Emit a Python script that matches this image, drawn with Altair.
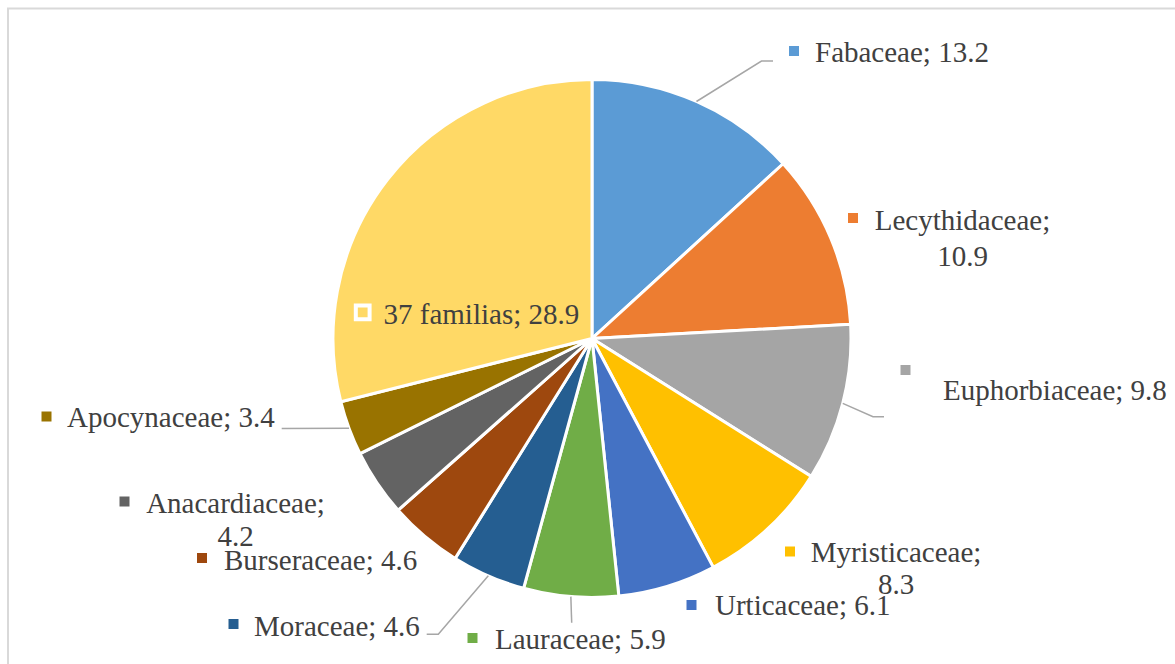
import math
import altair as alt
import pandas as pd

# ---- data ----
families = ["Fabaceae", "Lecythidaceae", "Euphorbiaceae", "Myristicaceae", "Urticaceae",
            "Lauraceae", "Moraceae", "Burseraceae", "Anacardiaceae", "Apocynaceae", "37 familias"]
values = [13.2, 10.9, 9.8, 8.3, 6.1, 5.9, 4.6, 4.6, 4.2, 3.4, 28.9]
colors = ["#5B9BD5", "#ED7D31", "#A5A5A5", "#FFC000", "#4472C4", "#70AD47",
          "#255E91", "#9E480E", "#636363", "#997300", "#FFD966"]

# ---- layout (pixels) ----
W, H = 1175, 664
CX, CY, R = 592, 338.5, 259
TEXT_COLOR = "#404040"
FONT = "Times New Roman, Liberation Serif, DejaVu Serif, serif"
FS = 29

# label layout: family -> list of (line kind, x, baseline y, align)
label_layout = {
    "Fabaceae": [("full", 815, 61.5, "left")],
    "Lecythidaceae": [("name", 962.5, 230, "center"), ("value", 962.5, 266, "center")],
    "Euphorbiaceae": [("full", 943, 400, "left")],
    "Myristicaceae": [("name", 896, 561.5, "center"), ("value", 896, 594, "center")],
    "Urticaceae": [("full", 715, 615, "left")],
    "Lauraceae": [("full", 495, 649, "left")],
    "Moraceae": [("full", 254, 636, "left")],
    "Burseraceae": [("full", 224, 570, "left")],
    "Anacardiaceae": [("name", 235.5, 513, "center"), ("value", 235.5, 546, "center")],
    "Apocynaceae": [("full", 67, 427, "left")],
    "37 familias": [("full", 383.5, 323.5, "left")],
}
marker_layout = {
    "Fabaceae": (794, 51), "Lecythidaceae": (853, 218), "Euphorbiaceae": (905.5, 370),
    "Myristicaceae": (790, 551.5), "Urticaceae": (691.5, 605), "Lauraceae": (472.5, 638),
    "Moraceae": (233.5, 624), "Burseraceae": (202, 558), "Anacardiaceae": (124.5, 501.5),
    "Apocynaceae": (46.5, 416.5), "37 familias": (362.7, 312.3),
}
# leader lines: points after the slice-edge start point
leader_layout = {
    "Fabaceae": [(761.5, 61), (773, 61)],
    "Euphorbiaceae": [(873, 416.7), (884, 416.7)],
    "Lauraceae": [(571.7, 622.7)],
    "Moraceae": [(438.3, 634.3), (426.7, 634.3)],
    "Apocynaceae": [(281.7, 428.5)],
}

# ---- tables ----
pie_df = pd.DataFrame({"family": families, "value": values, "idx": list(range(len(families)))})

total = sum(values)
mid_angle = {}
cum = 0.0
for f, v in zip(families, values):
    mid_angle[f] = (cum + v / 2) / total * 2 * math.pi
    cum += v

text_rows = []
for f, v in zip(families, values):
    for kind, x, y, align in label_layout[f]:
        if kind == "full":
            t = f"{f}; {v}"
        elif kind == "name":
            t = f"{f};"
        else:
            t = f"{v}"
        text_rows.append({"family": f, "text": t, "x": x, "y": y, "align": align})
text_df = pd.DataFrame(text_rows)

marker_df = pd.DataFrame([{"family": f, "x": marker_layout[f][0], "y": marker_layout[f][1]}
                          for f in families if f != "37 familias"])
hollow_df = pd.DataFrame([{"family": "37 familias", "x": marker_layout["37 familias"][0],
                           "y": marker_layout["37 familias"][1]}])

line_rows = []
for f, pts in leader_layout.items():
    a = mid_angle[f]
    start = (CX + R * math.sin(a), CY - R * math.cos(a))
    for i, p in enumerate([start] + pts):
        line_rows.append({"family": f, "x": p[0], "y": p[1], "o": i})
line_df = pd.DataFrame(line_rows)

xs = alt.Scale(domain=[0, W], nice=False, zero=False)
ys = alt.Scale(domain=[0, H], nice=False, zero=False, reverse=True)
cscale = alt.Scale(domain=families, range=colors)

border = alt.Chart(pd.DataFrame({"a": [0]})).mark_rect(
    fillOpacity=0, stroke="#D9D9D9", strokeWidth=2
).encode(x=alt.value(8), x2=alt.value(1300), y=alt.value(8.5), y2=alt.value(800))

pie = alt.Chart(pie_df).mark_arc(radius=R, stroke="white", strokeWidth=3).encode(
    theta=alt.Theta("value:Q", stack=True),
    order=alt.Order("idx:Q", sort="ascending"),
    color=alt.Color("family:N", scale=cscale, legend=None),
    x=alt.value(CX), y=alt.value(CY),
)

leaders = alt.Chart(line_df).mark_line(color="#A6A6A6", strokeWidth=1.5).encode(
    x=alt.X("x:Q", scale=xs, axis=None),
    y=alt.Y("y:Q", scale=ys, axis=None),
    detail="family:N",
    order="o:Q",
)

markers = alt.Chart(marker_df).mark_square(size=100, opacity=1).encode(
    x=alt.X("x:Q", scale=xs, axis=None),
    y=alt.Y("y:Q", scale=ys, axis=None),
    color=alt.Color("family:N", scale=cscale, legend=None),
)

hollow = alt.Chart(hollow_df).mark_square(size=190, filled=False, stroke="white",
                                          strokeWidth=4, opacity=1).encode(
    x=alt.X("x:Q", scale=xs, axis=None),
    y=alt.Y("y:Q", scale=ys, axis=None),
)

def text_layer(align):
    return alt.Chart(text_df[text_df["align"] == align]).mark_text(
        align=align, baseline="alphabetic", font=FONT, fontSize=FS, color=TEXT_COLOR
    ).encode(
        x=alt.X("x:Q", scale=xs, axis=None),
        y=alt.Y("y:Q", scale=ys, axis=None),
        text="text:N",
    )

chart = alt.layer(
    border, pie, leaders, markers, hollow, text_layer("left"), text_layer("center")
).properties(
    width=W, height=H, padding=0, autosize=alt.AutoSizeParams(type="none"),
    background="white",
).configure_view(stroke=None)

chart.save("out.html", embed_options={"renderer": "svg", "actions": False})
